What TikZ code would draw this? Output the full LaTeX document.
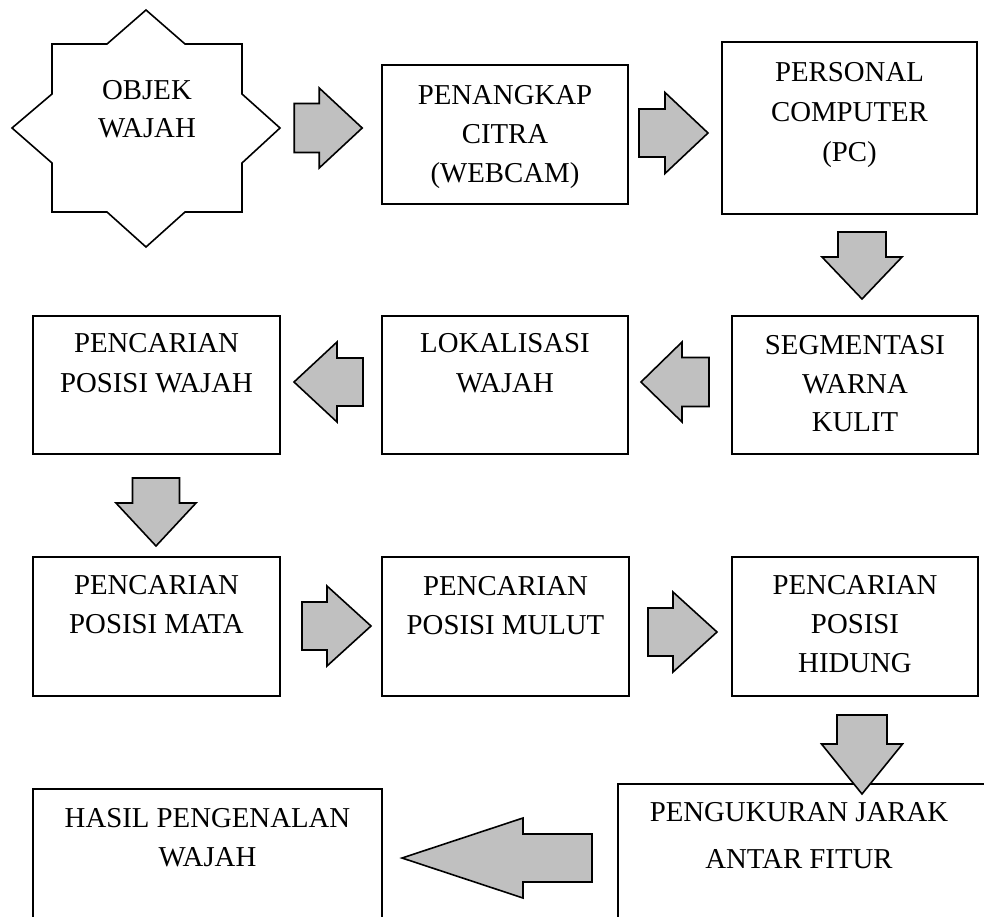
\documentclass[tikz,border=0pt]{standalone}
\usepackage{fontspec}
\setmainfont{Liberation Serif}
\usetikzlibrary{calc}
\definecolor{arrowgray}{HTML}{C0C0C0}
\tikzset{
  stage/.style={draw=black, line width=1.9pt, inner sep=0pt, outer sep=0pt},
  % anchored at the baseline of the last line
  caption/.style={align=center, inner sep=0pt, outer sep=0pt, anchor=base},
  lines/.style={font=\fontsize{28.8}{#1}\selectfont},
  blockarrow/.style={draw=black, fill=arrowgray, line width=1.6pt, line join=miter},
}
% block arrow: #1 tail point, #2 direction, #3 length, #4 head length,
% #5 half shaft width, #6 half head width
\newcommand{\blockarr}[6]{%
  \draw[blockarrow, shift={#1}, rotate=#2]
    (0,#5) -- ({#3-#4},#5) -- ({#3-#4},#6) -- (#3,0)
    -- ({#3-#4},-#6) -- ({#3-#4},-#5) -- (0,-#5) -- cycle;}
\begin{document}
\begin{tikzpicture}[x=1pt, y=-1pt]
\useasboundingbox (0,0) rectangle (984,917);
\clip (0,0) rectangle (984,917);

% eight-pointed star
\node[inner sep=0pt, minimum width=268, minimum height=237] (obj) at (146,128) {};
\draw[line width=1.6pt, line join=miter, shift={(obj.center)}]
  (0,-118) -- (39,-84) -- (96,-84) -- (96,-34) -- (134,0) -- (96,35) -- (96,84)
  -- (39,84) -- (0,119) -- (-39,84) -- (-94,84) -- (-94,35) -- (-134,0)
  -- (-94,-34) -- (-94,-84) -- (-39,-84) -- cycle;
\node[caption, lines=38] (obj-t) at ($(obj.center)+(1,9.5)$) {OBJEK\\WAJAH};

% process boxes
\node[stage, minimum width=246, minimum height=139] (cam)   at (505,134.5) {};
\node[stage, minimum width=255, minimum height=172] (pc)    at (849.5,128) {};
\node[stage, minimum width=246, minimum height=138] (seg)   at (855,385) {};
\node[stage, minimum width=246, minimum height=138] (lok)   at (505,385) {};
\node[stage, minimum width=247, minimum height=138] (pwaj)  at (156.5,385) {};
\node[stage, minimum width=247, minimum height=139] (mata)  at (156.5,626.5) {};
\node[stage, minimum width=247, minimum height=139] (mulut) at (505.5,626.5) {};
\node[stage, minimum width=246, minimum height=139] (hid)   at (855,626.5) {};
\node[stage, minimum width=349, minimum height=171] (hasil) at (207.5,874.5) {};
\node[stage, line width=1.4pt, minimum width=400, minimum height=176] (ukur) at (818,872) {};

% box texts
\node[caption, lines=39] (cam-t)   at ($(cam.north)+(0,117.5)$)   {PENANGKAP\\CITRA\\(WEBCAM)};
\node[caption, lines=40] (pc-t)    at ($(pc.north)+(0,119.5)$)    {PERSONAL\\COMPUTER\\(PC)};
\node[caption, lines=38.5] (seg-t) at ($(seg.north)+(0,115.5)$)   {SEGMENTASI\\WARNA\\KULIT};
\node[caption, lines=40] (lok-t)   at ($(lok.north)+(0,76.5)$)    {LOKALISASI\\WAJAH};
\node[caption, lines=40] (pwaj-t)  at ($(pwaj.north)+(0,76.5)$)   {PENCARIAN\\POSISI WAJAH};
\node[caption, lines=39] (mata-t)  at ($(mata.north)+(0,76.5)$)   {PENCARIAN\\POSISI MATA};
\node[caption, lines=39] (mulut-t) at ($(mulut.north)+(0,77.5)$)  {PENCARIAN\\POSISI MULUT};
\node[caption, lines=39] (hid-t)   at ($(hid.north)+(0,115.5)$)   {PENCARIAN\\POSISI\\HIDUNG};
\node[caption, lines=39] (hasil-t) at ($(hasil.north)+(0,77.5)$)  {HASIL PENGENALAN\\WAJAH};
\node[caption, lines=47] (ukur-t)  at ($(ukur.north west)+(181,84.5)$) {PENGUKURAN JARAK\\ANTAR FITUR};

% flow arrows
\blockarr{($(obj.east)+(14,0)$)}{0}{68}{43}{24.5}{40}
\blockarr{($(cam.east)+(11,-1.5)$)}{0}{69}{43}{24}{40.5}
\blockarr{($(pc.south)+(12.5,18)$)}{-90}{67}{42}{24}{40}
\blockarr{($(seg.west)+(-23,-3)$)}{180}{68}{41}{24.5}{40}
\blockarr{($(lok.west)+(-19,-3)$)}{180}{69}{43}{24}{40}
\blockarr{($(pwaj.south)+(-0.5,24)$)}{-90}{68}{43}{23.5}{40}
\blockarr{($(mata.east)+(22,-0.5)$)}{0}{69}{44}{24}{40}
\blockarr{($(mulut.east)+(19,5.5)$)}{0}{69}{44}{24}{40}
\blockarr{($(hid.south)+(7,19)$)}{-90}{79}{50}{25}{40.5}
\blockarr{($(ukur.west)+(-26,-14)$)}{180}{190}{121}{24}{40}
\end{tikzpicture}
\end{document}
